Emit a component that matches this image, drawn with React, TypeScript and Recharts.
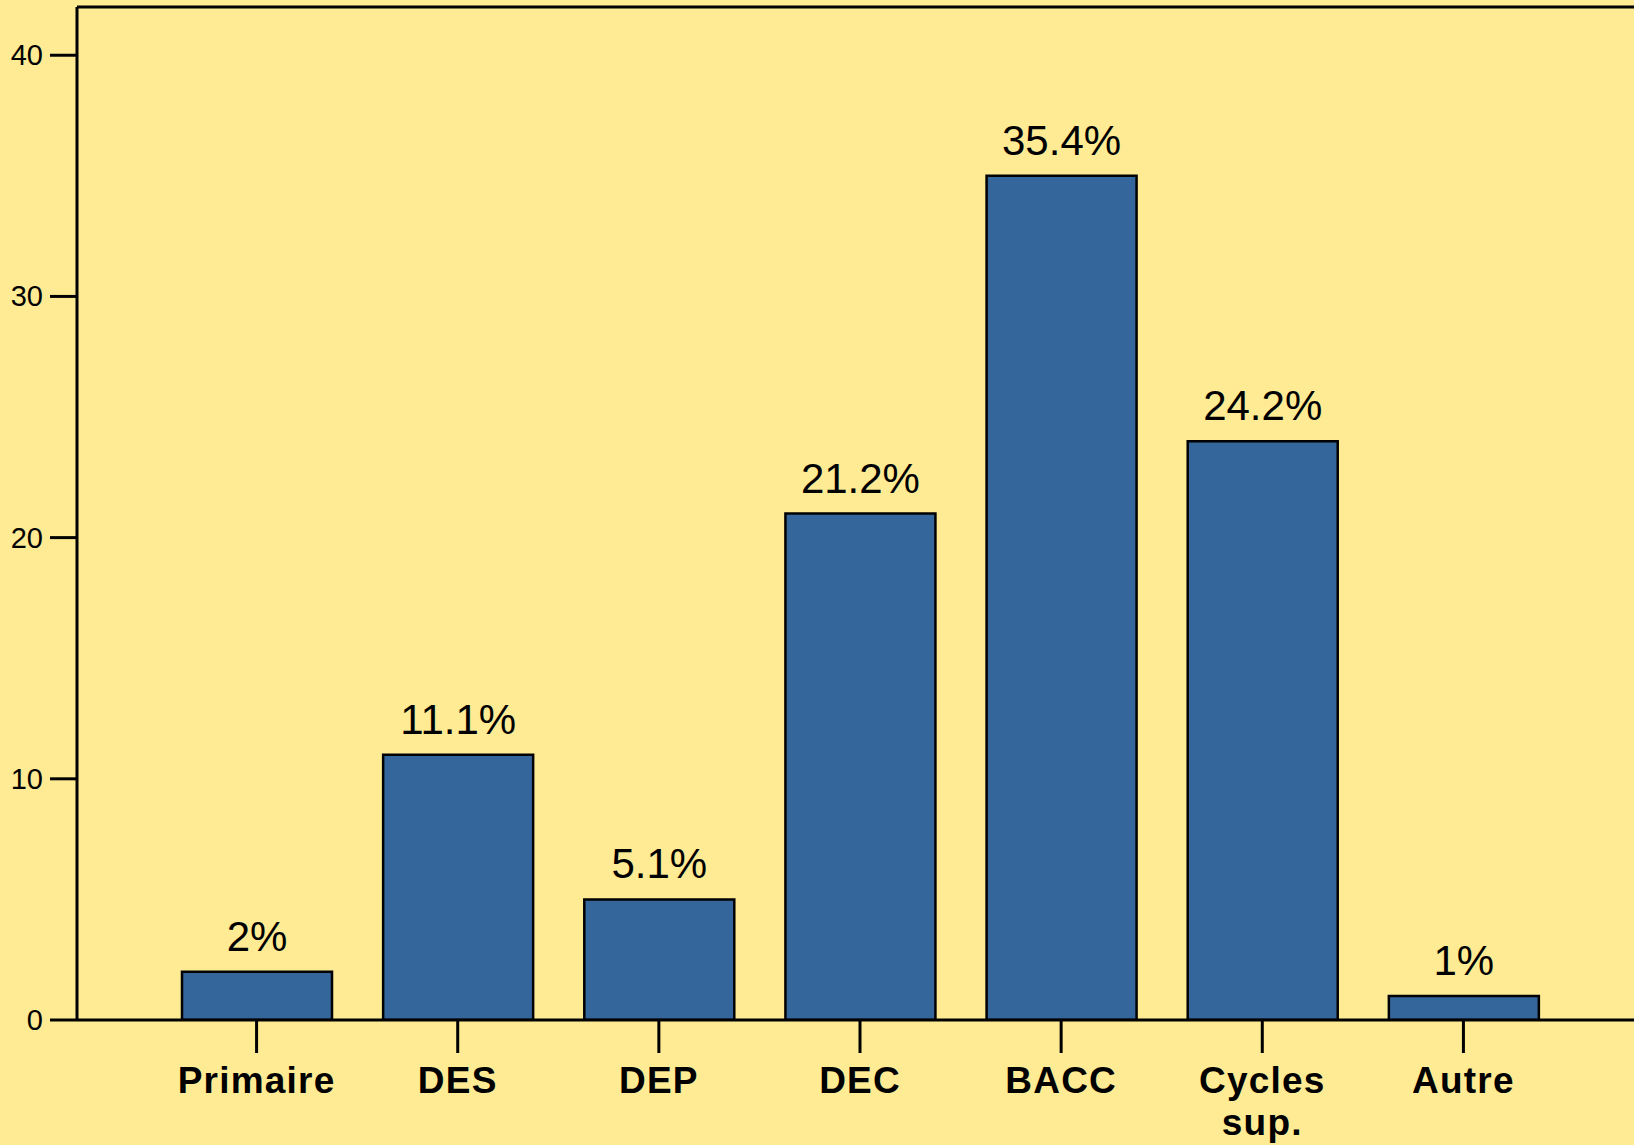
import { Bar, BarChart, LabelList, ReferenceLine, XAxis, YAxis } from "recharts";

const categories = ["Primaire", "DES", "DEP", "DEC", "BACC", "Cycles sup.", "Autre"];
// bar heights as drawn in the source (whole numbers)
const barValues = [2, 11, 5, 21, 35, 24, 1];
// printed labels above the bars
const barLabels = ["2%", "11.1%", "5.1%", "21.2%", "35.4%", "24.2%", "1%"];
const yTicks = [0, 10, 20, 30, 40];
const yMax = 42;

const data = categories.map((name, i) => ({
  name,
  value: barValues[i],
  label: barLabels[i],
}));

const FONT = '"Liberation Sans", Arial, sans-serif';

// one word per line, like the source ("Cycles" / "sup.")
const CategoryTick = (props: any) => {
  const { x, y, payload } = props;
  const lines = String(payload.value).split(" ");
  return (
    <text
      x={x}
      y={y}
      textAnchor="middle"
      fill="#000"
      style={{ fontFamily: FONT, fontSize: 37, fontWeight: 700, letterSpacing: 1.2 }}
    >
      {lines.map((line, i) => (
        <tspan key={i} x={x} dy={i === 0 ? 26 : 42}>
          {line}
        </tspan>
      ))}
    </text>
  );
};

const ValueTick = (props: any) => {
  const { x, y, payload } = props;
  return (
    <text
      x={x}
      y={y}
      dy={10}
      textAnchor="end"
      fill="#000"
      style={{ fontFamily: FONT, fontSize: 29 }}
    >
      {payload.value}
    </text>
  );
};

export default function App() {
  return (
    <div
      style={{
        position: "absolute",
        left: 0,
        top: 0,
        width: 1634,
        height: 1145,
        background: "#FEEB94",
        overflow: "hidden",
      }}
    >
      <BarChart
        width={1634}
        height={1145}
        data={data}
        margin={{ top: 7, right: 0, left: 0, bottom: 0 }}
      >
        <XAxis
          dataKey="name"
          height={125}
          padding={{ left: 79, right: 70 }}
          axisLine={{ stroke: "#000", strokeWidth: 3 }}
          tickLine={{ stroke: "#000", strokeWidth: 3 }}
          tickSize={33}
          tickMargin={14}
          tick={<CategoryTick />}
          interval={0}
        />
        <YAxis
          width={77}
          domain={[0, yMax]}
          ticks={yTicks}
          allowDataOverflow
          axisLine={{ stroke: "#000", strokeWidth: 3 }}
          tickLine={{ stroke: "#000", strokeWidth: 3 }}
          tickSize={27}
          tickMargin={7}
          tick={<ValueTick />}
        />
        <ReferenceLine y={yMax} stroke="#000" strokeWidth={3} />
        <Bar
          dataKey="value"
          barSize={150}
          fill="#35669B"
          stroke="#000"
          strokeWidth={2.5}
          isAnimationActive={false}
        >
          <LabelList
            dataKey="label"
            position="top"
            offset={21}
            fill="#000"
            style={{ fontFamily: FONT, fontSize: 42 }}
          />
        </Bar>
      </BarChart>
    </div>
  );
}
